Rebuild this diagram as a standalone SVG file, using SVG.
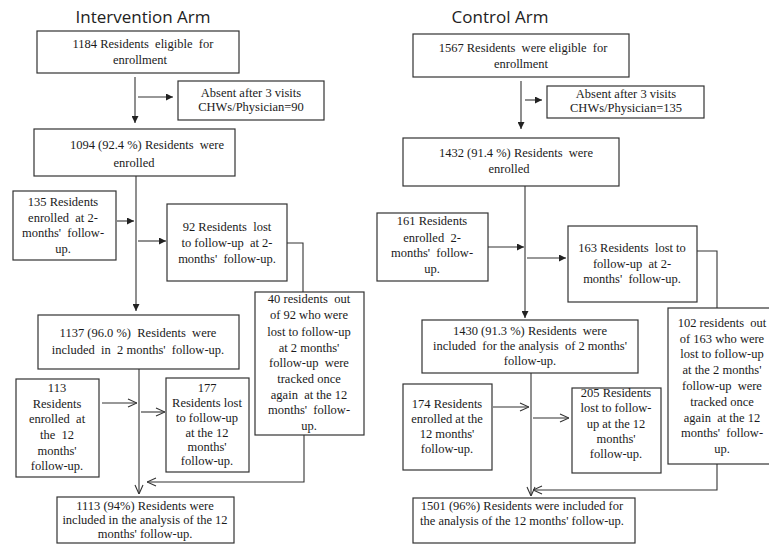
<svg xmlns="http://www.w3.org/2000/svg" width="769" height="544" viewBox="0 0 769 544">
<defs>
<style>
.box{fill:#fff;stroke:#333;stroke-width:1.2}
.t{font-family:'Liberation Serif','Times New Roman','DejaVu Serif',serif;font-size:12.5px;fill:#1a1a1a;text-anchor:middle;white-space:pre}
.h{font-family:'Open Sans','Liberation Sans',sans-serif;font-size:17px;fill:#222;text-anchor:middle}
.c{fill:none;stroke:#333;stroke-width:1.1}
.f{marker-end:url(#arr)}
.o{marker-end:url(#open)}
</style>
<marker id="arr" viewBox="0 0 10 10" refX="10" refY="5" markerWidth="7" markerHeight="7" markerUnits="userSpaceOnUse" orient="auto"><path d="M0,0 L10,5 L0,10 z" fill="#222"/></marker>
<marker id="open" viewBox="0 0 10 10" refX="10" refY="5" markerWidth="10" markerHeight="10" markerUnits="userSpaceOnUse" orient="auto"><path d="M1,1 L10,5 L1,9" fill="none" stroke="#333" stroke-width="1.1"/></marker>
</defs>
<rect width="769" height="544" fill="#fff"/>
<text class="h" x="143" y="23" textLength="135">Intervention Arm</text>
<text class="h" x="500" y="23" textLength="97">Control Arm</text>

<g id="connectors">
<line class="c f" x1="135" y1="77" x2="135" y2="123"/>
<line class="c f" x1="138" y1="97" x2="173" y2="97"/>
<line class="c f" x1="136" y1="176" x2="136" y2="311"/>
<line class="c f" x1="117" y1="221" x2="134" y2="221"/>
<line class="c f" x1="138" y1="241" x2="166" y2="241"/>
<polyline class="c" points="287,243 303,243 303,292"/>
<line class="c o" x1="139" y1="369" x2="139" y2="494"/>
<line class="c o" x1="102" y1="403" x2="137" y2="403"/>
<line class="c o" x1="141" y1="412" x2="165" y2="412"/>
<polyline class="c o" points="304,435 304,482 147,482"/>
<line class="c f" x1="521" y1="81" x2="521" y2="129"/>
<line class="c f" x1="525" y1="100" x2="542" y2="100"/>
<line class="c f" x1="525" y1="186" x2="525" y2="318"/>
<line class="c f" x1="488" y1="247" x2="524" y2="247"/>
<line class="c f" x1="527" y1="258" x2="566" y2="258"/>
<polyline class="c" points="697,251 717,251 717,308"/>
<line class="c o" x1="531" y1="373" x2="531" y2="496"/>
<line class="c o" x1="493" y1="407" x2="529" y2="407"/>
<line class="c o" x1="533" y1="418" x2="569" y2="418"/>
<polyline class="c o" points="717,464 717,490 533,490"/>
</g>

<g font-family="Liberation Serif, DejaVu Serif, serif" xml:space="preserve">
<g id="i1"><rect class="box" x="37" y="31" width="202" height="42"/>
<text class="t" x="143" y="48">1184 Residents  eligible  for</text>
<text class="t" x="140" y="64">enrollment</text></g>
<g id="i_absent"><rect class="box" x="178" y="81" width="146" height="39"/>
<text class="t" x="251" y="97">Absent after 3 visits</text>
<text class="t" x="251" y="111">CHWs/Physician=90</text></g>
<g id="i2"><rect class="box" x="34" y="129" width="201" height="47"/>
<text class="t" x="147" y="149">1094 (92.4 %) Residents  were</text>
<text class="t" x="134" y="167">enrolled</text></g>
<g id="i_enr2"><rect class="box" x="13" y="191" width="103" height="69"/>
<text class="t" x="63" y="206">135 Residents</text>
<text class="t" x="63" y="222">enrolled  at 2-</text>
<text class="t" x="63" y="237">months'  follow-</text>
<text class="t" x="63" y="253">up.</text></g>
<g id="i_lost2"><rect class="box" x="167" y="204" width="120" height="77"/>
<text class="t" x="227" y="231">92 Residents  lost</text>
<text class="t" x="227" y="247">to follow-up  at 2-</text>
<text class="t" x="227" y="263">months'  follow-up.</text></g>
<g id="i_tracked"><rect class="box" x="255" y="292" width="109" height="143"/>
<text class="t" x="309" y="303">40 residents  out</text>
<text class="t" x="309" y="319">of 92 who were</text>
<text class="t" x="309" y="336">lost to follow-up</text>
<text class="t" x="309" y="352">at 2 months'</text>
<text class="t" x="309" y="367">follow-up  were</text>
<text class="t" x="309" y="383">tracked once</text>
<text class="t" x="309" y="399">again  at the 12</text>
<text class="t" x="309" y="414">months'  follow-</text>
<text class="t" x="309" y="430">up.</text></g>
<g id="i3"><rect class="box" x="38" y="315" width="201" height="54"/>
<text class="t" x="138" y="337">1137 (96.0 %)  Residents  were</text>
<text class="t" x="138" y="354">included  in  2 months'  follow-up.</text></g>
<g id="i_enr12"><rect class="box" x="16" y="379" width="83" height="98"/>
<text class="t" x="57" y="392">113</text>
<text class="t" x="57" y="408">Residents</text>
<text class="t" x="57" y="423">enrolled  at</text>
<text class="t" x="57" y="439">the  12</text>
<text class="t" x="57" y="455">months'</text>
<text class="t" x="57" y="470">follow-up.</text></g>
<g id="i_lost12"><rect class="box" x="166" y="378" width="83" height="94"/>
<text class="t" x="207" y="392">177</text>
<text class="t" x="207" y="407">Residents lost</text>
<text class="t" x="207" y="422">to follow-up</text>
<text class="t" x="207" y="437">at the 12</text>
<text class="t" x="207" y="451">months'</text>
<text class="t" x="207" y="465">follow-up.</text></g>
<g id="i4"><rect class="box" x="57" y="497" width="177" height="46"/>
<text class="t" x="145" y="510">1113 (94%) Residents were</text>
<text class="t" x="145" y="524">included in the analysis of the 12</text>
<text class="t" x="145" y="538">months' follow-up.</text></g>

<g id="c1"><rect class="box" x="413" y="34" width="216" height="43"/>
<text class="t" x="523" y="52">1567 Residents  were eligible  for</text>
<text class="t" x="521" y="68">enrollment</text></g>
<g id="c_absent"><rect class="box" x="547" y="86" width="157" height="32"/>
<text class="t" x="626" y="98">Absent after 3 visits</text>
<text class="t" x="626" y="112">CHWs/Physician=135</text></g>
<g id="c2"><rect class="box" x="403" y="138" width="216" height="48"/>
<text class="t" x="516" y="157">1432 (91.4 %) Residents  were</text>
<text class="t" x="509" y="173">enrolled</text></g>
<g id="c_enr2"><rect class="box" x="377" y="213" width="111" height="68"/>
<text class="t" x="432" y="225">161 Residents</text>
<text class="t" x="432" y="242">enrolled  2-</text>
<text class="t" x="432" y="257">months'  follow-</text>
<text class="t" x="432" y="273">up.</text></g>
<g id="c_lost2"><rect class="box" x="568" y="226" width="129" height="76"/>
<text class="t" x="632" y="252">163 Residents  lost to</text>
<text class="t" x="632" y="268">follow-up  at 2-</text>
<text class="t" x="632" y="283">months'  follow-up.</text></g>
<g id="c_tracked"><rect class="box" x="668" y="308" width="110" height="156"/>
<text class="t" x="722" y="327">102 residents  out</text>
<text class="t" x="722" y="343">of 163 who were</text>
<text class="t" x="722" y="358">lost to follow-up</text>
<text class="t" x="722" y="374">at the 2 months'</text>
<text class="t" x="722" y="390">follow-up  were</text>
<text class="t" x="722" y="406">tracked once</text>
<text class="t" x="722" y="422">again  at the 12</text>
<text class="t" x="722" y="437">months'  follow-</text>
<text class="t" x="722" y="453">up.</text></g>
<g id="c3"><rect class="box" x="422" y="320" width="216" height="53"/>
<text class="t" x="530" y="335">1430 (91.3 %) Residents  were</text>
<text class="t" x="530" y="350">included  for the analysis  of 2 months'</text>
<text class="t" x="530" y="365">follow-up.</text></g>
<g id="c_enr12"><rect class="box" x="403" y="384" width="89" height="86"/>
<text class="t" x="447" y="408">174 Residents</text>
<text class="t" x="447" y="423">enrolled at the</text>
<text class="t" x="447" y="438">12 months'</text>
<text class="t" x="447" y="453">follow-up.</text></g>
<g id="c_lost12"><rect class="box" x="572" y="388" width="89" height="85"/>
<text class="t" x="616" y="397">205 Residents</text>
<text class="t" x="616" y="412">lost to follow-</text>
<text class="t" x="616" y="428">up at the 12</text>
<text class="t" x="616" y="443">months'</text>
<text class="t" x="616" y="458">follow-up.</text></g>
<g id="c4"><rect class="box" x="413" y="498" width="222" height="45"/>
<text class="t" x="522" y="510">1501 (96%) Residents were included for</text>
<text class="t" x="522" y="525">the analysis of the 12 months' follow-up.</text></g>
</g>
</svg>
